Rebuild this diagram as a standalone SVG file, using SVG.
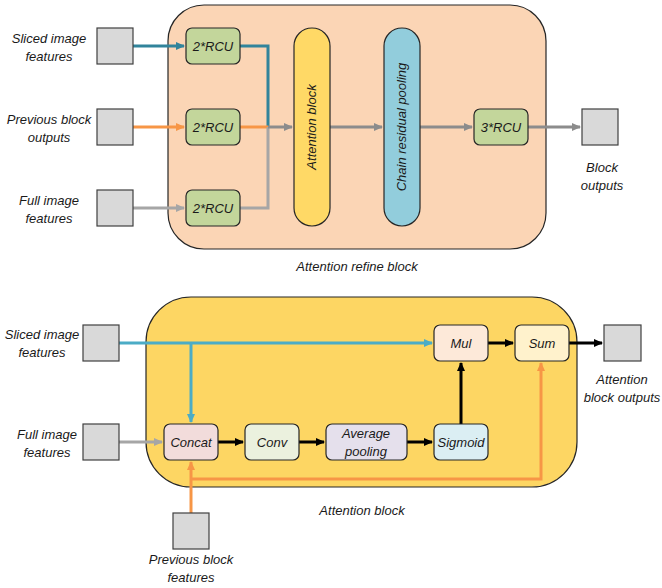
<svg xmlns="http://www.w3.org/2000/svg" width="662" height="588" viewBox="0 0 662 588">
<defs>
<style>
text{font-family:"Liberation Sans",Arial,sans-serif;font-style:italic;font-size:13px;fill:#1a1a1a;text-anchor:middle}
.io{fill:#D9D9D9;stroke:#404040;stroke-width:1.2}
.rcu{fill:#C3D69B;stroke:#262626;stroke-width:1.2}
.ln{fill:none;stroke-width:3}
.bl{stroke:#31849B}.or{stroke:#F79646}.gr{stroke:#A6A6A6}.lb{stroke:#4BACC6}.bk{stroke:#000}
.bx{stroke:#262626;stroke-width:1.2}
</style>
<marker id="aBl" markerWidth="10" markerHeight="10" refX="8" refY="5" orient="auto" markerUnits="userSpaceOnUse"><path d="M0,1 L9,5 L0,9 z" fill="#31849B"/></marker>
<marker id="aOr" markerWidth="10" markerHeight="10" refX="8" refY="5" orient="auto" markerUnits="userSpaceOnUse"><path d="M0,1 L9,5 L0,9 z" fill="#F79646"/></marker>
<marker id="aGr" markerWidth="10" markerHeight="10" refX="8" refY="5" orient="auto" markerUnits="userSpaceOnUse"><path d="M0,1 L9,5 L0,9 z" fill="#A6A6A6"/></marker>
<marker id="aDg" markerWidth="10" markerHeight="10" refX="8" refY="5" orient="auto" markerUnits="userSpaceOnUse"><path d="M0,1 L9,5 L0,9 z" fill="#8C8C8C"/></marker>
<marker id="aLb" markerWidth="10" markerHeight="10" refX="8" refY="5" orient="auto" markerUnits="userSpaceOnUse"><path d="M0,1 L9,5 L0,9 z" fill="#4BACC6"/></marker>
<marker id="aBk" markerWidth="10" markerHeight="10" refX="8" refY="5" orient="auto" markerUnits="userSpaceOnUse"><path d="M0,1 L9,5 L0,9 z" fill="#000"/></marker>
</defs>
<rect width="662" height="588" fill="#fff"/>

<!-- Top panel -->
<g id="refine-block">
<rect x="168" y="5" width="378" height="244" rx="36" fill="#FBD5B5" stroke="#262626" stroke-width="1.2"/>
<text x="357" y="271">Attention refine block</text>
</g>

<g id="connectors-top">
<path class="ln bl" d="M133,46 H184" marker-end="url(#aBl)"/>
<path class="ln bl" d="M240,46 H268 V127"/>
<path class="ln or" d="M133,127 H184" marker-end="url(#aOr)"/>
<path class="ln or" d="M240,127 H268"/>
<path class="ln gr" d="M133,208 H184" marker-end="url(#aGr)"/>
<path class="ln gr" d="M240,208 H268 V127"/>
<path class="ln" stroke="#8C8C8C" d="M268,127 H292" marker-end="url(#aDg)"/>
<path class="ln" stroke="#8C8C8C" d="M330,127 H382" marker-end="url(#aDg)"/>
<path class="ln" stroke="#8C8C8C" d="M420,127 H472" marker-end="url(#aDg)"/>
<path class="ln" stroke="#8C8C8C" d="M528,127 H580" marker-end="url(#aDg)"/>
</g>

<g id="in-sliced-top"><rect class="io" x="97" y="28" width="36" height="36"/><text x="49" y="43">Sliced image</text><text x="49" y="61">features</text></g>
<g id="in-prev-top"><rect class="io" x="97" y="109" width="36" height="36"/><text x="49" y="124">Previous block</text><text x="49" y="142">outputs</text></g>
<g id="in-full-top"><rect class="io" x="97" y="190" width="36" height="36"/><text x="49" y="205">Full image</text><text x="49" y="223">features</text></g>

<g id="rcu1"><rect class="rcu" x="186" y="28" width="54" height="36" rx="6"/><text x="213" y="51">2*RCU</text></g>
<g id="rcu2"><rect class="rcu" x="186" y="109" width="54" height="36" rx="6"/><text x="213" y="132">2*RCU</text></g>
<g id="rcu3"><rect class="rcu" x="186" y="190" width="54" height="36" rx="6"/><text x="213" y="213">2*RCU</text></g>

<g id="attention-pill"><rect x="294" y="28" width="36" height="198" rx="18" fill="#FFD966" stroke="#262626" stroke-width="1.2"/><text transform="translate(316,127) rotate(-90)">Attention block</text></g>
<g id="chain-pill"><rect x="384" y="28" width="36" height="198" rx="18" fill="#92CDDC" stroke="#262626" stroke-width="1.2"/><text transform="translate(406,127) rotate(-90)">Chain residual pooling</text></g>

<g id="rcu-out"><rect class="rcu" x="474" y="109" width="54" height="36" rx="6"/><text x="501" y="132">3*RCU</text></g>
<g id="out-top"><rect class="io" x="582" y="109" width="36" height="36"/><text x="602" y="172">Block</text><text x="602" y="190">outputs</text></g>

<!-- Bottom panel -->
<g id="attention-block">
<rect x="146" y="297" width="431" height="190" rx="45" fill="#FDD663" stroke="#262626" stroke-width="1.2"/>
<text x="362" y="515">Attention block</text>
</g>

<g id="connectors-bottom">
<path class="ln lb" d="M119,343 H432" marker-end="url(#aLb)"/>
<path class="ln lb" d="M191,343 V422" marker-end="url(#aLb)"/>
<path class="ln gr" d="M119,442 H162" marker-end="url(#aGr)"/>
<path class="ln or" d="M191,513 V462" marker-end="url(#aOr)"/>
<path class="ln or" d="M191,479 H541 V363" marker-end="url(#aOr)"/>
<path class="ln bk" d="M218,442 H243" marker-end="url(#aBk)"/>
<path class="ln bk" d="M299,442 H324" marker-end="url(#aBk)"/>
<path class="ln bk" d="M407,442 H432" marker-end="url(#aBk)"/>
<path class="ln bk" d="M461,424 V363" marker-end="url(#aBk)"/>
<path class="ln bk" d="M488,343 H513" marker-end="url(#aBk)"/>
<path class="ln bk" d="M569,343 H602" marker-end="url(#aBk)"/>
</g>

<g id="in-sliced-bot"><rect class="io" x="83" y="325" width="36" height="36"/><text x="42" y="339">Sliced image</text><text x="42" y="357">features</text></g>
<g id="in-full-bot"><rect class="io" x="83" y="424" width="36" height="36"/><text x="47" y="439">Full image</text><text x="47" y="457">features</text></g>
<g id="in-prev-bot"><rect class="io" x="173" y="513" width="36" height="36"/><text x="191" y="564">Previous block</text><text x="191" y="582">features</text></g>

<g id="concat"><rect class="bx" fill="#F2DCDB" x="164" y="424" width="54" height="36" rx="6"/><text x="191" y="447">Concat</text></g>
<g id="conv"><rect class="bx" fill="#EBF1DE" x="245" y="424" width="54" height="36" rx="6"/><text x="272" y="447">Conv</text></g>
<g id="avgpool"><rect class="bx" fill="#E5E0EC" x="326" y="424" width="81" height="36" rx="6"/><text x="366" y="438">Average</text><text x="366" y="456">pooling</text></g>
<g id="sigmoid"><rect class="bx" fill="#DBEEF3" x="434" y="424" width="54" height="36" rx="6"/><text x="461" y="447">Sigmoid</text></g>
<g id="mul"><rect class="bx" fill="#FDE9D9" x="434" y="325" width="54" height="36" rx="6"/><text x="461" y="348">Mul</text></g>
<g id="sum"><rect class="bx" fill="#FFF2CC" x="515" y="325" width="54" height="36" rx="6"/><text x="542" y="348">Sum</text></g>
<g id="out-bot"><rect class="io" x="604" y="325" width="37" height="36"/><text x="622" y="384">Attention</text><text x="622" y="402">block outputs</text></g>
</svg>
